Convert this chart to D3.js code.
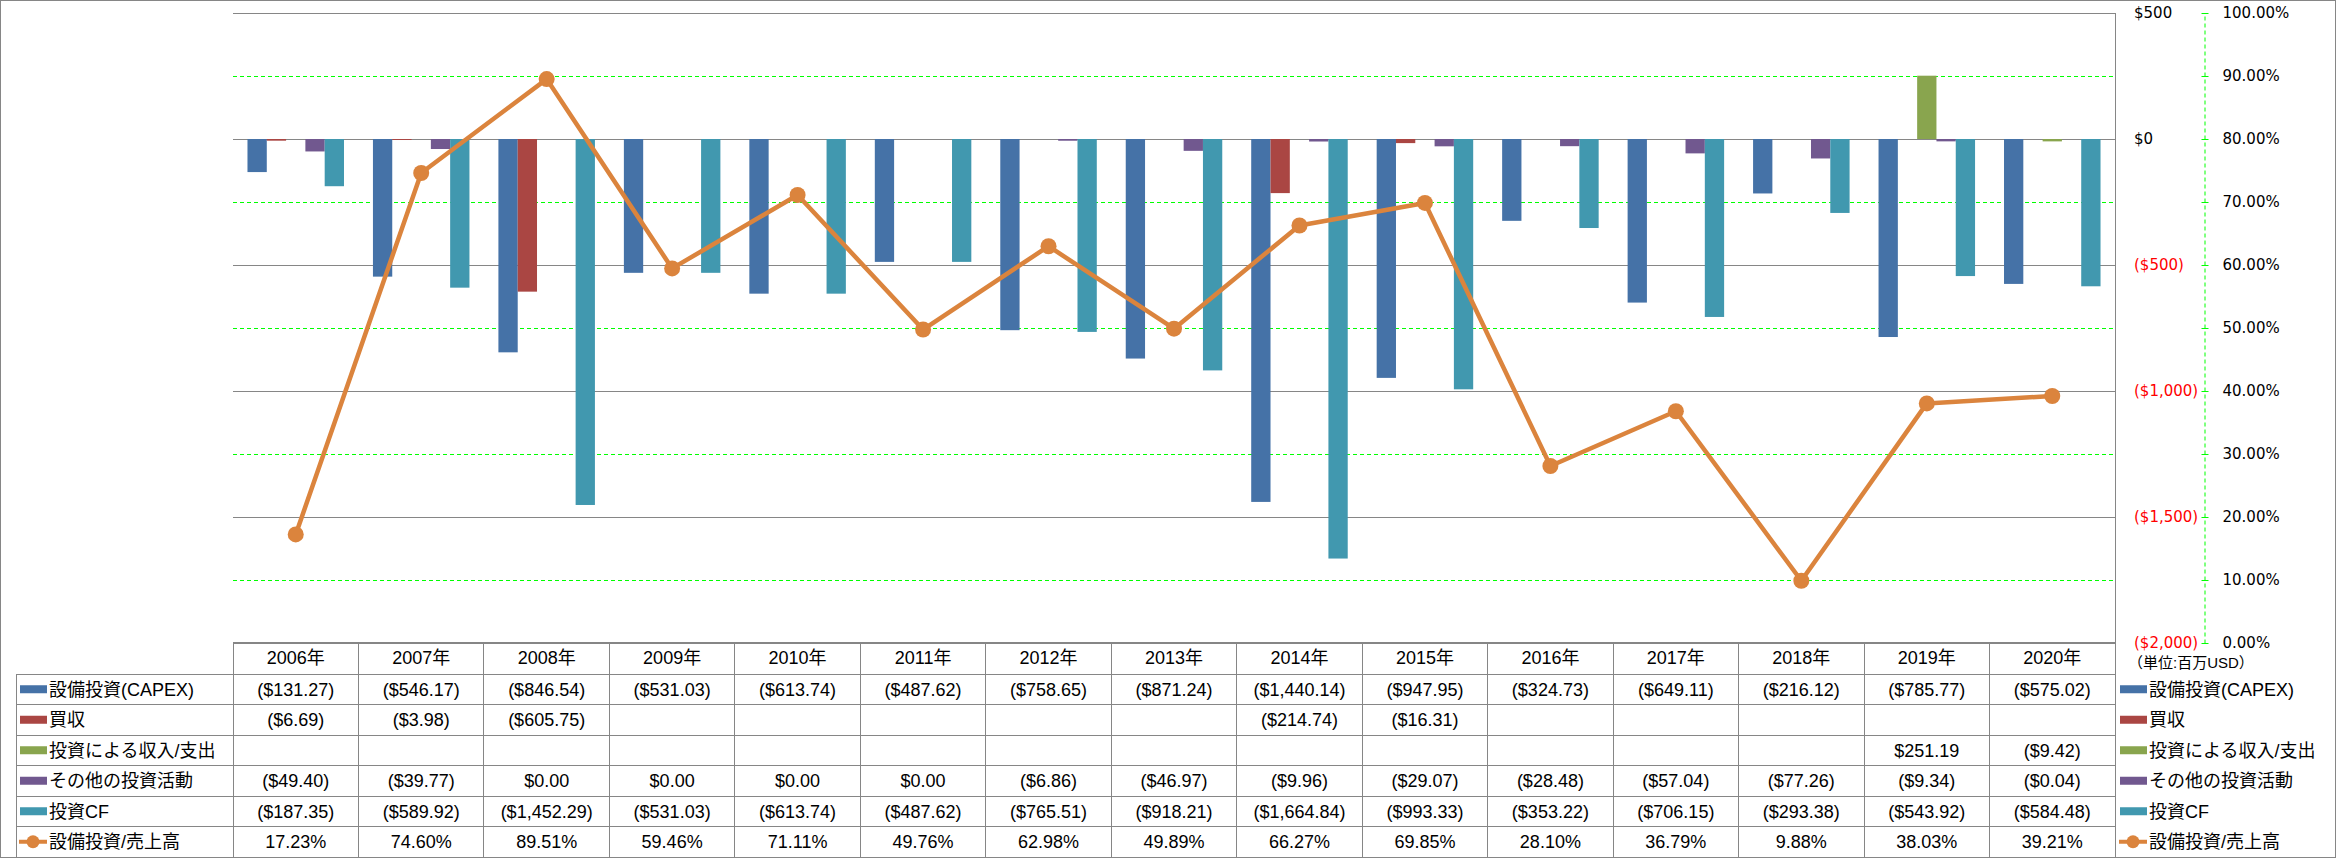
<!DOCTYPE html>
<html>
<head>
<meta charset="utf-8">
<script src="https://cdn.jsdelivr.net/npm/d3@7"></script>
<style>
  body { margin: 0; background: #fff; }
  text { font-family: "Liberation Sans", "Noto Sans CJK JP", sans-serif; }
</style>
</head>
<body>
<script>
'use strict';

const years = ['2006年', '2007年', '2008年', '2009年', '2010年', '2011年', '2012年', '2013年',
               '2014年', '2015年', '2016年', '2017年', '2018年', '2019年', '2020年'];

const capex    = [-131.27, -546.17, -846.54, -531.03, -613.74, -487.62, -758.65, -871.24,
                  -1440.14, -947.95, -324.73, -649.11, -216.12, -785.77, -575.02];
const acquis   = [-6.69, -3.98, -605.75, null, null, null, null, null,
                  -214.74, -16.31, null, null, null, null, null];
const invIncome = [null, null, null, null, null, null, null, null,
                   null, null, null, null, null, 251.19, -9.42];
const otherInv = [-49.40, -39.77, 0, 0, 0, 0, -6.86, -46.97,
                  -9.96, -29.07, -28.48, -57.04, -77.26, -9.34, -0.04];
const invCF    = [-187.35, -589.92, -1452.29, -531.03, -613.74, -487.62, -765.51, -918.21,
                  -1664.84, -993.33, -353.22, -706.15, -293.38, -543.92, -584.48];
const capexRatio = [17.23, 74.60, 89.51, 59.46, 71.11, 49.76, 62.98, 49.89,
                    66.27, 69.85, 28.10, 36.79, 9.88, 38.03, 39.21];

const dollarTicks = [500, 0, -500, -1000, -1500, -2000];
const pctTicks    = [100, 90, 80, 70, 60, 50, 40, 30, 20, 10, 0];

const barSeries = [
  { key: 'capex', name: '設備投資(CAPEX)',      values: capex,     color: '#4572A7' },
  { key: 'acq',   name: '買収',                 values: acquis,    color: '#AA4643' },
  { key: 'inc',   name: '投資による収入/支出',    values: invIncome, color: '#89A54E' },
  { key: 'oth',   name: 'その他の投資活動',       values: otherInv,  color: '#71588F' },
  { key: 'cf',    name: '投資CF',               values: invCF,     color: '#4198AF' }
];
const lineName  = '設備投資/売上高';
const lineColor = '#DB843D';

const W = 2336, H = 858;
const plotL = 233, plotR = 2115, plotT = 13, plotB = 643;
const gridColor = '#868686';

const svg = d3.select('body').append('svg')
  .attr('xmlns', 'http://www.w3.org/2000/svg')
  .attr('width', W)
  .attr('height', H);

const x  = d3.scaleBand().domain(years).range([plotL, plotR]);
const x1 = d3.scaleBand().domain(barSeries.map(s => s.key))
             .range([0, x.bandwidth()]).paddingOuter(0.75);
const y  = d3.scaleLinear().domain([-2000, 500]).range([plotB, plotT]);
const y2 = d3.scaleLinear().domain([0, 100]).range([plotB, plotT]);

// outer frame
svg.append('rect')
   .attr('x', 0.5).attr('y', 0.5)
   .attr('width', W - 1).attr('height', H - 1)
   .attr('fill', 'none').attr('stroke', gridColor);

// green dashed grid of the % axis
svg.append('g').selectAll('line').data(pctTicks).join('line')
   .attr('x1', plotL).attr('x2', plotR)
   .attr('y1', d => Math.round(y2(d)) + 0.5).attr('y2', d => Math.round(y2(d)) + 0.5)
   .attr('stroke', '#00FF00').attr('stroke-dasharray', '4,3');

// gray grid of the $ axis
svg.append('g').selectAll('line').data(dollarTicks).join('line')
   .attr('x1', plotL).attr('x2', plotR)
   .attr('y1', d => Math.round(y(d)) + 0.5).attr('y2', d => Math.round(y(d)) + 0.5)
   .attr('stroke', gridColor);

// bars
barSeries.forEach((s) => {
  svg.append('g').selectAll('rect')
     .data(s.values.map((v, i) => ({ v, year: years[i] })).filter(d => d.v !== null))
     .join('rect')
     .attr('x', d => x(d.year) + x1(s.key))
     .attr('width', x1.bandwidth())
     .attr('y', d => y(Math.max(0, d.v)))
     .attr('height', d => Math.abs(y(d.v) - y(0)))
     .attr('fill', s.color);
});

// line + markers
const lineData = capexRatio.map((v, i) => ({ v, year: years[i] }));
svg.append('path')
   .datum(lineData)
   .attr('fill', 'none')
   .attr('stroke', lineColor)
   .attr('stroke-width', 4.5)
   .attr('stroke-linejoin', 'round')
   .attr('d', d3.line().x(d => x(d.year) + x.bandwidth() / 2).y(d => y2(d.v)));

svg.append('g').selectAll('circle').data(lineData).join('circle')
   .attr('cx', d => x(d.year) + x.bandwidth() / 2)
   .attr('cy', d => y2(d.v))
   .attr('r', 8)
   .attr('fill', lineColor);

// $ axis (labels only, on the right)
const fmtDollar = d3.format('$,');
const yAxis = svg.append('g')
  .attr('transform', 'translate(2134,0)')
  .call(d3.axisRight(y).tickValues(dollarTicks).tickSize(0).tickPadding(0)
          .tickFormat(d => d < 0 ? '(' + fmtDollar(-d) + ')' : fmtDollar(d)));
yAxis.select('.domain').remove();
yAxis.selectAll('text')
     .style('font-family', '"DejaVu Sans", sans-serif')
     .style('font-size', '15px')
     .attr('fill', d => d < 0 ? '#FF0000' : '#000');

// % axis
const y2Axis = svg.append('g')
  .attr('transform', 'translate(2204.5,0)')
  .call(d3.axisRight(y2).tickValues(pctTicks).tickSizeInner(4).tickSizeOuter(0).tickPadding(14)
          .tickFormat(d => d.toFixed(2) + '%'));
y2Axis.select('.domain').attr('stroke', '#00FF00').attr('stroke-dasharray', '4,3');
y2Axis.selectAll('.tick line').attr('stroke', '#00FF00').attr('x1', -3);
y2Axis.selectAll('text')
      .style('font-family', '"DejaVu Sans", sans-serif')
      .style('font-size', '15px')
      .attr('fill', '#000');

svg.append('text')
   .attr('x', 2128).attr('y', 663).attr('dy', '0.35em')
   .style('font-size', '15px')
   .text('（単位:百万USD）');

// data table
const headT = plotB - 1, headH = 32, rowH = 30.5;
const rowTop = i => headT + headH + i * rowH;
const nRows = barSeries.length + 1;
const tableB = rowTop(nRows);

const fmtNum = d3.format('$,.2f');
const money = v => v === null ? '' : (v < 0 ? '(' + fmtNum(-v) + ')' : fmtNum(v));

const table = svg.append('g').attr('stroke', gridColor).attr('shape-rendering', 'crispEdges');
table.append('line').attr('x1', plotL).attr('x2', plotR).attr('y1', headT).attr('y2', headT);
d3.range(nRows + 1).forEach((i) => {
  table.append('line').attr('x1', 16).attr('x2', plotR)
       .attr('y1', rowTop(i)).attr('y2', rowTop(i));
});
years.forEach((yr) => {
  table.append('line').attr('x1', x(yr)).attr('x2', x(yr)).attr('y1', headT).attr('y2', tableB);
});
table.append('line').attr('x1', plotR).attr('x2', plotR).attr('y1', plotT).attr('y2', tableB);
table.append('line').attr('x1', 16).attr('x2', 16).attr('y1', rowTop(0)).attr('y2', tableB);

svg.append('g').selectAll('text').data(years).join('text')
   .attr('x', d => x(d) + x.bandwidth() / 2)
   .attr('y', headT + headH / 2)
   .attr('dy', '0.35em')
   .attr('text-anchor', 'middle')
   .style('font-size', '18px')
   .text(d => d);

const rows = barSeries.map(s => ({ name: s.name, color: s.color, cells: s.values.map(money), line: false }))
  .concat([{ name: lineName, color: lineColor, cells: capexRatio.map(v => v.toFixed(2) + '%'), line: true }]);

rows.forEach((r, i) => {
  const cy = rowTop(i) + rowH / 2;
  [20, 2120].forEach((kx) => {
    if (r.line) {
      svg.append('line').attr('x1', kx - 1).attr('x2', kx + 27).attr('y1', cy).attr('y2', cy)
         .attr('stroke', r.color).attr('stroke-width', 4);
      svg.append('circle').attr('cx', kx + 13).attr('cy', cy).attr('r', 6.5).attr('fill', r.color);
    } else {
      svg.append('rect').attr('x', kx).attr('y', cy - 4).attr('width', 27).attr('height', 8)
         .attr('fill', r.color);
    }
    svg.append('text')
       .attr('x', kx + 29).attr('y', cy).attr('dy', '0.35em')
       .style('font-size', '18px')
       .text(r.name);
  });
  svg.append('g').selectAll('text').data(r.cells).join('text')
     .attr('x', (d, j) => x(years[j]) + x.bandwidth() / 2)
     .attr('y', cy).attr('dy', '0.35em')
     .attr('text-anchor', 'middle')
     .style('font-size', '18px')
     .text(d => d);
});
</script>
</body>
</html>
